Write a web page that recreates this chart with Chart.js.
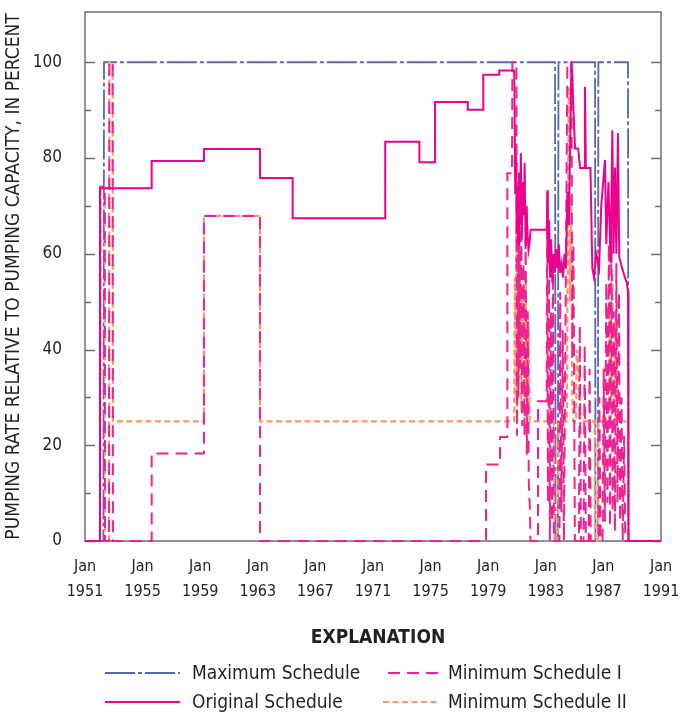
<!DOCTYPE html>
<html>
<head>
<meta charset="utf-8">
<script src="https://cdn.jsdelivr.net/npm/chart.js@4.4.1/dist/chart.umd.min.js"></script>
<style>
  html, body { margin: 0; padding: 0; background: #fff; }
  #chart { display: block; }
</style>
</head>
<body>
<canvas id="chart" width="687" height="712"></canvas>
<script>
// Pumping schedules, percent of pumping capacity, by decimal year

const xTickYears  = [1951, 1955, 1959, 1963, 1967, 1971, 1975, 1979, 1983, 1987, 1991];
const yTickValues = [0, 10, 20, 30, 40, 50, 60, 70, 80, 90, 100];

const maxYears = [1951, 1952.28, 1952.32, 1983.64, 1983.68, 1983.84, 1983.88, 1986.42, 1986.45, 1986.62, 1986.65, 1988.71, 1988.74, 1991];
const maxPct   = [0,    0,       100,     100,     0,       0,       100,     100,     0,       0,       100,     100,     0,       0];

const origYears = [
  1951, 1952.04, 1952.04, 1955.63, 1955.63, 1959.26, 1959.26, 1963.15, 1963.15, 1965.42, 1965.42,
  1971.85, 1971.85, 1974.22, 1974.22, 1975.31, 1975.31, 1977.58, 1977.58, 1978.66, 1978.66,
  1979.77, 1979.77, 1980.81,
  1980.88, 1980.93, 1980.98, 1981.03, 1981.08, 1981.13, 1981.2, 1981.27, 1981.33, 1981.4,
  1981.47, 1981.53, 1981.6, 1981.67, 1981.73, 1981.8, 1981.86, 1981.95, 1983.06,
  1983.13, 1983.18, 1983.23, 1983.3, 1983.37, 1983.45, 1983.55, 1983.62, 1983.72, 1983.8,
  1983.9, 1984.0, 1984.1, 1984.2, 1984.3, 1984.4, 1984.5, 1984.6, 1984.7, 1984.78, 1984.84,
  1984.92, 1985.03, 1985.25, 1985.38, 1985.68, 1985.72, 1985.78, 1986.1, 1986.23, 1986.35,
  1986.5, 1986.7, 1986.85, 1987.11, 1987.2, 1987.35, 1987.5, 1987.62, 1987.7, 1987.8, 1987.9,
  1988.01, 1988.1, 1988.3, 1988.5, 1988.62, 1988.71, 1988.74, 1991
];
const origPct = [
  0, 0, 73.7, 73.7, 79.4, 79.4, 81.9, 81.9, 75.8, 75.8, 67.4,
  67.4, 83.4, 83.4, 79.1, 79.1, 91.7, 91.7, 90.1, 90.1, 97.4,
  97.4, 98.3, 98.3,
  72.7, 80.5, 64, 74, 62, 77, 66, 81, 63, 75,
  68, 79, 61, 70, 64, 60.8, 62, 65, 65,
  73.3, 58, 67, 55, 63, 54, 60, 56, 61, 57,
  62, 56, 58, 55, 60, 57, 73, 66, 85, 100, 97,
  90, 82, 82, 77.9, 77.9, 94.9, 77.9, 77.9, 57, 55,
  60, 57, 70, 79.6, 62, 75, 58, 85.8, 60, 78, 60,
  85.2, 59.4, 57, 55, 54, 52, 0, 0
];

const minIYears = [
  1951, 1952.04, 1952.06, 1952.37, 1952.39, 1952.67, 1952.69, 1952.92, 1952.94,
  1955.63, 1955.63, 1959.26, 1959.26, 1963.15, 1963.15, 1978.85, 1978.85, 1979.82, 1979.82,
  1980.33, 1980.33, 1980.65, 1980.68, 1980.96,
  1981.0, 1981.05, 1981.1, 1981.15, 1981.22, 1981.3, 1981.36, 1981.45, 1981.52, 1981.6,
  1981.68, 1981.75, 1981.82, 1981.9, 1981.93, 1982.46, 1982.46, 1983.06,
  1983.1, 1983.15, 1983.22, 1983.28, 1983.36, 1983.43, 1983.5, 1983.56, 1983.95,
  1984.0, 1984.08, 1984.18, 1984.26, 1984.42, 1984.5, 1984.78,
  1984.84, 1984.92, 1985.02, 1985.3, 1985.36, 1985.44, 1985.62, 1985.7, 1985.78,
  1985.98, 1986.04, 1986.12, 1986.66,
  1986.72, 1986.8, 1986.94, 1987.02, 1987.1, 1987.2, 1987.28, 1987.38, 1987.46,
  1987.56, 1987.64, 1987.72, 1987.8, 1987.9, 1987.98, 1988.08, 1988.16, 1988.26, 1988.34,
  1988.44, 1988.52, 1991
];
const minIPct = [
  0, 0, 74, 74, 0, 0, 100, 100, 0,
  0, 18.3, 18.3, 67.9, 67.9, 0, 0, 16, 16, 21.7,
  21.7, 76.8, 76.8, 100, 100,
  22, 64, 30, 72, 36, 66, 24, 58, 22, 63,
  18, 48, 12, 6.5, 0, 0, 29.2, 29.2,
  73, 8, 55, 0, 48, 4, 60, 0, 0,
  52, 6, 44, 0, 68, 100, 100,
  38, 62, 0, 0, 45, 0, 0, 41, 0,
  0, 36, 0, 0,
  30, 0, 0, 36, 4, 54, 8, 62, 3,
  68, 6, 48, 2, 58, 8, 52, 4, 30, 0,
  22, 0, 0
];

const minIIYears = [
  1951, 1952.04, 1952.06, 1952.37, 1952.39, 1952.67, 1952.69, 1952.92, 1952.94,
  1959.26, 1959.26, 1963.15, 1963.15, 1980.81,
  1980.85, 1980.9, 1980.95, 1981.0, 1981.07, 1981.14, 1981.22, 1981.3, 1981.4, 1981.5,
  1981.6, 1981.7, 1981.8, 1981.88, 1983.58, 1983.6, 1983.86, 1983.88, 1984.46,
  1984.52, 1984.6, 1984.68, 1984.76, 1984.84, 1984.9, 1985.1, 1985.14, 1985.3, 1985.4,
  1986.4, 1986.42, 1986.63, 1986.65, 1987.42, 1987.46, 1987.54, 1987.62, 1987.7, 1987.8,
  1987.88, 1988.71, 1988.73, 1991
];
const minIIPct = [
  0, 0, 74, 74, 0, 0, 100, 100, 25,
  25, 67.9, 67.9, 25, 25,
  55, 30, 65, 28, 60, 34, 58, 27, 52, 30,
  55, 26, 46, 25, 25, 0, 0, 25, 25,
  60, 95, 50, 72, 30, 25, 25, 40, 34, 25,
  25, 0, 0, 25, 25, 50, 30, 56, 28, 46,
  25, 25, 0, 0
];

const FONT = "'DejaVu Sans Condensed', 'Liberation Sans Narrow', sans-serif";
const TEXT = '#231f20';

function pts(xs, ys) {
  return xs.map((x, i) => ({ x, y: ys[i] }));
}

const legendItems = [
  { text: 'Maximum Schedule',    ds: 0, x0: 105, x1: 180, tx: 192, y: 673 },
  { text: 'Minimum Schedule I',  ds: 2, x0: 388, x1: 438, tx: 448, y: 673 },
  { text: 'Original Schedule',   ds: 1, x0: 105, x1: 180, tx: 192, y: 702 },
  { text: 'Minimum Schedule II', ds: 3, x0: 383, x1: 438, tx: 448, y: 702 },
];

// frame, inward ticks and the explanation block
const framePlugin = {
  id: 'framePlugin',
  beforeDatasetsDraw(chart) {
    const { ctx, chartArea: a, scales: { y } } = chart;
    ctx.save();
    ctx.strokeStyle = '#6d6e71';
    ctx.lineWidth = 1.5;
    ctx.strokeRect(a.left, a.top, a.right - a.left, a.bottom - a.top);
    yTickValues.forEach(v => {
      const py = Math.round(y.getPixelForValue(v)) + 0.5;
      const len = v % 20 === 0 ? 10 : 6;
      ctx.beginPath();
      ctx.moveTo(a.left, py);  ctx.lineTo(a.left + len, py);
      ctx.moveTo(a.right, py); ctx.lineTo(a.right - len, py);
      ctx.stroke();
    });
    ctx.restore();
  },
  afterDraw(chart) {
    const ctx = chart.ctx;
    ctx.save();
    ctx.fillStyle = TEXT;
    ctx.textAlign = 'center';
    ctx.textBaseline = 'middle';
    ctx.font = `bold 19px ${FONT}`;
    ctx.fillText('EXPLANATION', 378, 638);

    ctx.textAlign = 'left';
    ctx.font = `19px ${FONT}`;
    legendItems.forEach(it => {
      const ds = chart.data.datasets[it.ds];
      ctx.strokeStyle = ds.borderColor;
      ctx.lineWidth = ds.borderWidth;
      ctx.setLineDash(ds.borderDash || []);
      ctx.beginPath();
      ctx.moveTo(it.x0, it.y);
      ctx.lineTo(it.x1, it.y);
      ctx.stroke();
      ctx.setLineDash([]);
      ctx.fillText(it.text, it.tx, it.y + 1);
    });
    ctx.restore();
  }
};

const lineBase = { pointRadius: 0, tension: 0, fill: false, clip: 4 };

new Chart(document.getElementById('chart'), {
  type: 'line',
  data: {
    datasets: [
      { ...lineBase, label: 'Maximum Schedule', data: pts(maxYears, maxPct),
        borderColor: '#5767b0', borderWidth: 1.8, borderDash: [30, 3, 4, 3], order: 3 },
      { ...lineBase, label: 'Original Schedule', data: pts(origYears, origPct),
        borderColor: '#ec008c', borderWidth: 2, order: 0 },
      { ...lineBase, label: 'Minimum Schedule I', data: pts(minIYears, minIPct),
        borderColor: '#ee2392', borderWidth: 2, borderDash: [12, 7], order: 1 },
      { ...lineBase, label: 'Minimum Schedule II', data: pts(minIIYears, minIIPct),
        borderColor: '#f7976a', borderWidth: 2.2, borderDash: [6, 3.5], order: 2 },
    ],
  },
  options: {
    responsive: false,
    animation: false,
    devicePixelRatio: 1,
    layout: { padding: { left: 0, right: 26, top: 12, bottom: 0 } },
    plugins: { legend: { display: false }, tooltip: { enabled: false } },
    scales: {
      x: {
        type: 'linear',
        min: 1951,
        max: 1991,
        afterBuildTicks: s => { s.ticks = xTickYears.map(v => ({ value: v })); },
        afterFit: s => { s.height = 171; s.paddingLeft = 0; s.paddingRight = 0; },
        grid: { display: false, drawTicks: false },
        border: { display: false },
        ticks: {
          autoSkip: false,
          maxRotation: 0,
          padding: 13,
          color: TEXT,
          font: { family: FONT, size: 16, lineHeight: 1.56 },
          callback: v => ['Jan', String(v)],
        },
      },
      y: {
        min: 0,
        max: 110.5,
        afterBuildTicks: s => { s.ticks = yTickValues.map(v => ({ value: v })); },
        afterFit: s => { s.width = 85; s.paddingTop = 0; s.paddingBottom = 0; },
        grid: { display: false, drawTicks: false },
        border: { display: false },
        ticks: {
          padding: 23,
          color: TEXT,
          font: { family: FONT, size: 17 },
          callback: v => (v % 20 === 0 ? String(v) : ''),
        },
        title: {
          display: true,
          text: 'PUMPING RATE RELATIVE TO PUMPING CAPACITY, IN PERCENT',
          color: TEXT,
          font: { family: FONT, size: 19 },
          padding: { top: 3, bottom: 0 },
        },
      },
    },
  },
  plugins: [framePlugin],
});
</script>
</body>
</html>
